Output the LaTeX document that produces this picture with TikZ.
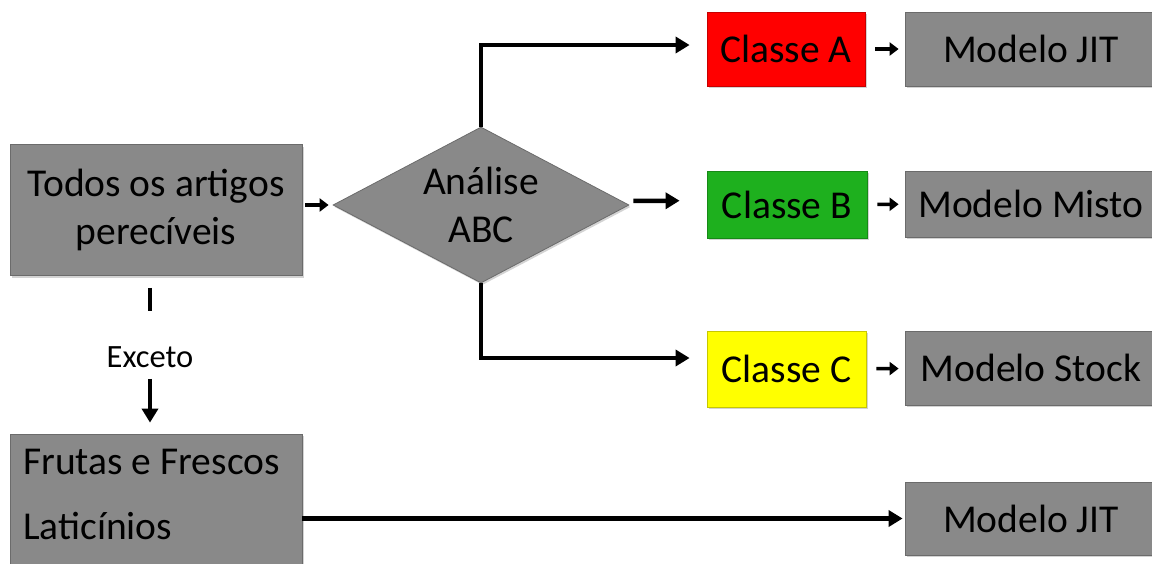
\documentclass[tikz,border=0pt]{standalone}
\usepackage{fontspec}
\setmainfont{Carlito}
\usetikzlibrary{shapes.geometric,arrows.meta,shadows}

\definecolor{boxgray}{HTML}{898989}
\definecolor{clsA}{HTML}{FF0000}
\definecolor{clsB}{HTML}{1EB01E}
\definecolor{clsC}{HTML}{FFFF00}

\begin{document}
\begin{tikzpicture}[x=1pt,y=-1pt,
  box/.style={draw=#1!78!black, line width=0.8pt, fill=#1, inner sep=0pt,
    font=\fontsize{39.5}{48}\selectfont, align=center,
    drop shadow={shadow xshift=1.5pt, shadow yshift=-2pt, opacity=0.35}},
  conn/.style={line width=4.5pt, -{Triangle[length=14pt,width=16pt]}},
  smallconn/.style={line width=3.5pt, -{Triangle[length=9pt,width=13pt]}},
  bar/.style={line width=4.5pt}
]
\useasboundingbox (0,0) rectangle (1152,563);
\clip (0,0) rectangle (1152,563);

% source boxes
\node[box=boxgray, minimum width=292pt, minimum height=131pt] (todos) at (156,210)
  {Todos os artigos\\perecíveis};
\node[box=boxgray, minimum width=292pt, minimum height=141pt] (frutas) at (156,504.5) {};
\node[anchor=west, align=left, inner sep=0pt, font=\fontsize{39.5}{65}\selectfont] (frutastxt)
  at (23,494.5) {Frutas e Frescos\\Laticínios};

% decision
\node[diamond, box=boxgray, aspect=1.9, minimum width=296pt, minimum height=156pt] (abc)
  at (481,205) {Análise\\ABC};

% classes
\node[box=clsA, minimum width=158pt, minimum height=74pt] (cA) at (786,49) {Classe A};
\node[box=clsB, minimum width=160pt, minimum height=67pt] (cB) at (787,204.5) {Classe B};
\node[box=clsC, minimum width=159pt, minimum height=76pt] (cC) at (786.5,369) {Classe C};

% models
\node[box=boxgray, minimum width=252pt, minimum height=74pt] (mA) at (1031,49) {Modelo JIT};
\node[box=boxgray, minimum width=252pt, minimum height=66pt] (mB) at (1031,204) {Modelo Misto};
\node[box=boxgray, minimum width=252pt, minimum height=74pt] (mC) at (1031,368) {Modelo Stock};
\node[box=boxgray, minimum width=252pt, minimum height=73pt] (mD) at (1031,518.5) {Modelo JIT};

% exception label
\node[inner sep=0pt, font=\fontsize{32.5}{36}\selectfont] (exc) at (150,357) {Exceto};

% connectors
\draw[smallconn, shorten <=3pt, shorten >=4pt] (todos.east |- abc.west) -- (abc.west);
\draw[conn, shorten >=17pt] (abc.north) |- ([yshift=4pt]cA.west);
\draw[conn, shorten <=4pt, shorten >=27pt] ([yshift=4pt]abc.east) -- ([yshift=4pt]cB.west);
\draw[conn, shorten >=17pt] (abc.south) |- ([yshift=11pt]cC.west);

\draw[smallconn, shorten <=10pt, shorten >=6pt] (cA) -- (mA);
\draw[smallconn, shorten <=10pt, shorten >=6pt] (cB) -- (mB);
\draw[smallconn, shorten <=10pt, shorten >=6pt] (cC) -- (mC);

\draw[bar, shorten <=12pt, shorten >=35pt] ([xshift=-6pt]todos.south) -- (exc.north);
\draw[conn, shorten <=11pt, shorten >=11pt] (exc.south) -- ([xshift=-6pt]frutas.north);

\draw[conn, shorten >=2pt] (frutas.east |- mD.west) -- (mD.west);
\end{tikzpicture}
\end{document}
